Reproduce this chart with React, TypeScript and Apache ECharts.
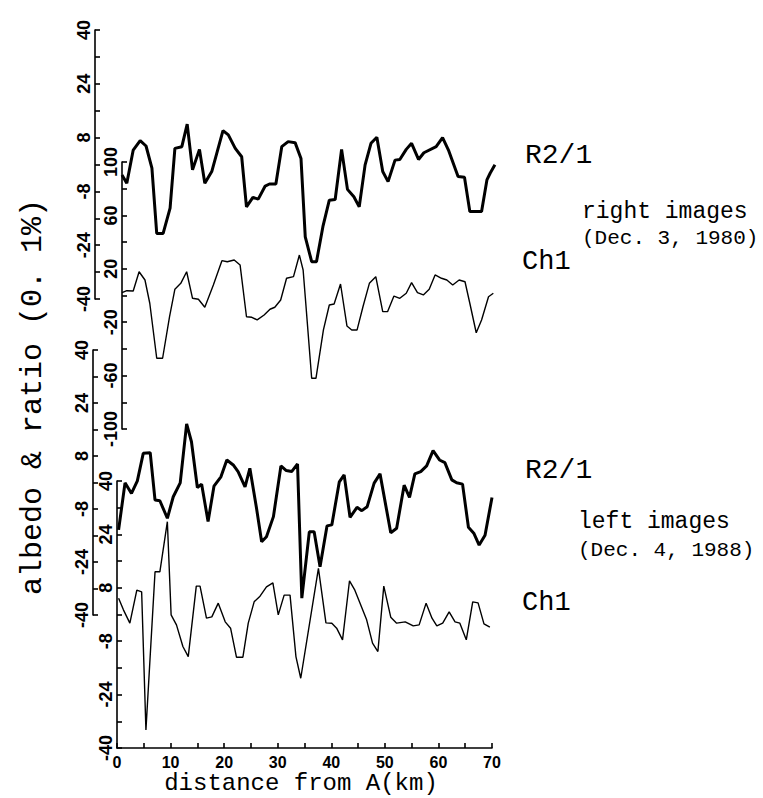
import React, { useEffect, useRef } from "react";
import * as echarts from "echarts";

// distance along profile (km) and values
const topRatioKm = [0,0.9,2.1,3.4,4.5,5.6,6.5,7.7,9.0,9.9,11.2,12.2,13.2,14.5,15.5,16.8,18.9,19.9,21.2,22.4,23.3,24.5,25.5,26.8,27.6,28.8,29.9,31.1,32.4,33.5,34.3,35.5,36.4,37.6,38.8,39.9,41.1,42.2,43.4,44.4,45.5,46.6,47.7,48.8,49.8,51.1,52.0,53.2,54.2,55.5,56.5,58.8,60.0,61.1,62.9,64.1,65.1,67.3,68.3,68.9,69.8];
const topRatio = [-3.1,-5.6,4.3,7.1,5.5,-1.1,-20.5,-20.5,-13.0,4.8,5.3,12.0,-1.6,4.5,-5.6,-2.1,10.1,8.8,4.8,2.3,-12.6,-9.8,-10.3,-6.4,-5.8,-5.8,5.3,6.8,6.5,1.8,-21.5,-28.9,-28.9,-18.5,-10.6,-10.4,4.5,-7.4,-9.6,-12.6,-0.1,6.3,8.1,-2.1,-5.1,1.3,1.5,4.5,6.3,1.5,3.5,5.3,8.0,4.3,-3.6,-3.8,-14.0,-14.0,-4.6,-2.6,-0.1];

const topCh1Km = [0,0.9,2.1,3.2,4.3,5.2,6.5,7.6,8.9,9.9,11.0,12.1,13.2,14.3,15.5,17.1,18.7,19.7,21.0,22.1,23.3,24.3,25.3,26.6,27.7,28.6,29.7,30.8,32.1,33.2,33.9,34.3,35.5,36.3,37.7,38.8,39.7,40.9,42.1,43.0,44.0,45.1,46.3,47.5,48.8,49.7,50.9,52.0,53.2,54.2,55.3,56.4,57.5,58.6,59.8,60.8,61.9,63.1,64.2,65.1,66.3,67.3,68.6,69.5];
const topCh1 = [2.1,3.6,3.4,17.8,11.6,-5.8,-47.0,-47.0,-15.9,4.7,9.1,17.8,-2.1,-2.8,-8.8,7.9,26.1,25.3,26.6,22.9,-15.9,-16.3,-18.3,-14.6,-10.3,-8.8,-3.4,12.9,14.1,30.3,19.1,-0.9,-62.0,-62.0,-25.8,-7.1,-6.4,8.6,-22.8,-25.8,-25.8,-8.4,9.1,14.1,-12.1,-12.1,-0.4,-2.1,1.7,9.6,2.1,0.4,4.7,15.4,12.9,11.6,7.9,11.6,10.3,-5.8,-27.9,-18.3,-0.9,1.7];

const botRatioKm = [0.3,1.5,2.7,3.8,4.9,6.2,7.1,8.0,9.4,10.5,11.8,13.0,13.9,15.0,15.8,17.0,18.1,19.4,20.5,21.7,22.6,23.9,24.8,26.0,27.0,27.9,29.2,30.6,31.6,32.6,33.7,34.5,35.9,36.8,37.9,39.2,40.1,41.5,42.4,43.5,44.8,45.7,46.7,48.0,49.1,51.1,52.2,53.6,54.6,55.6,56.7,57.8,59.0,60.2,61.2,62.5,63.4,64.5,65.6,66.6,67.6,68.7,70.0];
const botRatio = [-14.3,-0.1,-3.3,0.5,8.8,9.0,-5.3,-5.5,-10.8,-4.3,-0.1,17.7,12.3,-1.5,-0.5,-11.8,-1.1,1.7,6.8,5.3,3.3,-1.3,4.3,-7.3,-17.9,-16.4,-10.3,5.0,3.6,3.3,5.6,-34.9,-14.9,-14.9,-25.4,-13.1,-12.8,0.2,2.3,-10.5,-7.5,-8.5,-7.3,-0.2,2.6,-15.2,-13.8,-0.8,-4.5,2.6,3.3,5.0,9.6,6.8,6.0,0.8,-0.1,-0.5,-13.5,-15.3,-18.9,-15.9,-4.5];

const botCh1Km = [0.3,1.2,2.4,3.7,4.6,5.4,7.1,8.0,9.4,10.1,11.1,12.3,13.3,14.8,15.5,16.7,17.7,18.9,20.2,21.2,22.3,23.5,24.5,25.6,26.7,27.9,29.1,30.1,31.2,32.3,33.4,34.3,37.6,39.0,40.1,41.0,42.1,43.4,44.4,46.6,47.7,48.7,49.8,51.1,52.2,53.8,55.3,56.4,57.7,58.8,59.7,60.8,62.0,63.1,64.0,65.2,66.4,67.4,68.5,69.6];
const botCh1 = [4.9,1.4,-2.6,7.3,6.8,-34.6,12.8,12.8,27.8,-0.1,-3.1,-9.6,-12.6,8.5,8.5,-1.1,-0.7,3.4,-2.2,-4.1,-12.8,-12.8,-2.6,3.8,5.5,8.3,9.5,-0.1,5.8,5.8,-12.6,-19.1,13.8,-2.5,-2.6,-4.1,-7.6,10.1,7.3,-1.6,-8.6,-11.1,8.5,-0.8,-2.6,-2.2,-3.4,-3.1,3.4,-1.1,-3.4,-2.6,0.8,-2.2,-2.6,-7.6,3.8,3.5,-2.8,-3.8];

const seriesLabels = ["R2/1", "Ch1"];
const panelLabels = ["right images", "(Dec. 3, 1980)", "left images", "(Dec. 4, 1988)"];
const xTitle = "distance from A(km)";
const yTitle = "albedo & ratio (0. 1%)";

const NUM_FONT = "Liberation Sans";
const TXT_FONT = "Liberation Mono";

function pairs(xs: number[], ys: number[]) {
  return xs.map((x, i) => [x, ys[i]]);
}

function yAxisDef(gridIndex: number, min: number, max: number, step: number, labelStep: number, offset: number) {
  return {
    type: "value",
    gridIndex,
    min,
    max,
    interval: step,
    offset,
    position: "left",
    axisLine: { show: true, onZero: false, lineStyle: { color: "#000", width: 1.6 } },
    axisTick: { show: true, inside: true, length: 5, lineStyle: { color: "#000", width: 1.6 } },
    splitLine: { show: false },
    axisLabel: {
      show: true,
      rotate: 90,
      margin: 2,
      color: "#000",
      fontFamily: NUM_FONT,
      fontWeight: "bold",
      fontSize: 18,
      formatter: (v: number) => (Math.round(v - min) % labelStep === 0 ? String(v) : ""),
    },
  };
}

function xAxisDef(gridIndex: number, show: boolean) {
  return {
    type: "value",
    gridIndex,
    min: 0,
    max: 70,
    interval: 5,
    show,
    position: "bottom",
    axisLine: { show: true, onZero: false, lineStyle: { color: "#000", width: 1.6 } },
    axisTick: { show: true, inside: true, length: 5, lineStyle: { color: "#000", width: 1.6 } },
    splitLine: { show: false },
    axisLabel: {
      margin: 6,
      color: "#000",
      fontFamily: NUM_FONT,
      fontWeight: "bold",
      fontSize: 16,
      formatter: (v: number) => (Math.round(v) % 10 === 0 ? String(v) : ""),
    },
  };
}

function lineSeries(idx: number, data: number[][], width: number) {
  return {
    type: "line",
    xAxisIndex: idx,
    yAxisIndex: idx,
    data,
    showSymbol: false,
    symbol: "none",
    lineStyle: { color: "#000", width },
    itemStyle: { color: "#000" },
  };
}

function txt(text: string, x: number, y: number, size: number, extra: any = {}) {
  return {
    type: "text",
    x,
    y,
    ...extra,
    style: {
      text,
      fill: "#000",
      fontFamily: TXT_FONT,
      fontSize: size,
      align: extra.align || "left",
      verticalAlign: "middle",
    },
  };
}

export default function App() {
  const ref = useRef<HTMLDivElement>(null);
  useEffect(() => {
    document.body.style.margin = "0";
    const chart = echarts.init(ref.current as HTMLDivElement, null, { renderer: "svg" });
    chart.setOption({
      animation: false,
      backgroundColor: "#fff",
      grid: [
        { left: 122, top: 30, width: 374, height: 269 },
        { left: 122, top: 162, width: 374, height: 267 },
        { left: 117, top: 350, width: 375, height: 265 },
        { left: 117, top: 481, width: 375, height: 267 },
      ],
      xAxis: [xAxisDef(0, false), xAxisDef(1, false), xAxisDef(2, false), xAxisDef(3, true)],
      yAxis: [
        yAxisDef(0, -40, 40, 8, 16, 27),
        yAxisDef(1, -100, 100, 20, 40, 0),
        yAxisDef(2, -40, 40, 8, 16, 24),
        yAxisDef(3, -40, 40, 8, 16, 0),
      ],
      series: [
        lineSeries(0, pairs(topRatioKm, topRatio), 3),
        lineSeries(1, pairs(topCh1Km, topCh1), 1.4),
        lineSeries(2, pairs(botRatioKm, botRatio), 3),
        lineSeries(3, pairs(botCh1Km, botCh1), 1.4),
      ],
      graphic: [
        txt(seriesLabels[0], 525, 155, 28),
        txt(panelLabels[0], 582, 212, 23),
        txt(panelLabels[1], 582, 238, 21),
        txt(seriesLabels[1], 522, 262, 27),
        txt(seriesLabels[0], 525, 470, 28),
        txt(panelLabels[2], 578, 522, 23),
        txt(panelLabels[3], 578, 550, 21),
        txt(seriesLabels[1], 522, 603, 27),
        txt(xTitle, 301, 783, 24, { align: "center" }),
        txt(yTitle, 33, 397, 30, { align: "center", rotation: Math.PI / 2 }),
      ],
    });
    return () => chart.dispose();
  }, []);
  return <div ref={ref} style={{ position: "absolute", left: 0, top: 0, width: 763, height: 798 }} />;
}
